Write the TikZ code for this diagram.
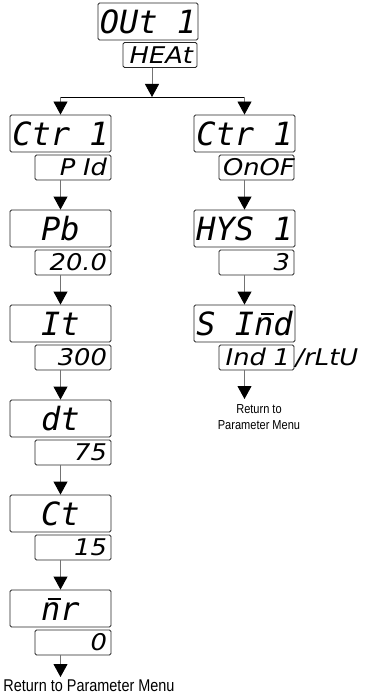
\documentclass[tikz,border=0pt]{standalone}
\usepackage{fontspec}
\usetikzlibrary{arrows.meta}
\newfontfamily\segfont{DejaVu Sans Mono}
\newfontfamily\segval[FakeStretch=1.12]{DejaVu Sans}
\newfontfamily\narrowsans[FakeStretch=0.85]{Liberation Sans}
\newcommand\segbarn{\leavevmode\rlap{\kern0.2em\raisebox{0.64em}{\rule{0.42em}{0.06em}}}n}
\begin{document}
\begin{tikzpicture}[x=1pt,y=-1pt,
  mainbox/.style={draw=black!85,line width=0.9pt,rounded corners=1.5pt,
    minimum width=101pt,minimum height=37pt,inner sep=0pt,
    font=\segfont\itshape\fontsize{32}{32}\selectfont,text height=23.4pt,text depth=0pt},
  valbox/.style={draw=black!85,line width=0.9pt,rounded corners=1.5pt,
    minimum height=25pt,inner xsep=4pt,inner ysep=0pt,align=right,
    font=\segval\itshape\fontsize{23}{23}\selectfont,text height=16.8pt,text depth=0pt},
  conn/.style={draw=black!55,line width=0.9pt,
    -{Triangle[width=14pt,length=13pt,fill=black,color=black]}},
  hline/.style={draw=black,line width=0.9pt},
  ret/.style={font=\narrowsans,align=center,inner sep=0pt}
]
\useasboundingbox (0,0) rectangle (378,698);
% top
\node[mainbox,minimum width=100pt] (out) at (148,21.5) {OUt 1};
\node[valbox,text width=66pt] (heat) at (160,55) {HEAt};
\coordinate (jn) at (152,97);
% left column
\node[mainbox] (ctrL) at (60.5,133.5) {Ctr 1};
\node[valbox,text width=68pt] (pid) at (73,167.5) {P Id};
\node[mainbox] (pb) at (60.5,228.5) {Pb};
\node[valbox,text width=68pt] (pbv) at (73,262.5) {20.0};
\node[mainbox] (it) at (60.5,323.5) {It};
\node[valbox,text width=68pt] (itv) at (73,357.5) {300};
\node[mainbox] (dt) at (60.5,418.5) {dt};
\node[valbox,text width=68pt] (dtv) at (73,452.5) {75};
\node[mainbox] (ct) at (60.5,513.5) {Ct};
\node[valbox,text width=68pt] (ctv) at (73,547.5) {15};
\node[mainbox] (mr) at (60.5,608.5) {\segbarn r};
\node[valbox,text width=68pt] (mrv) at (73,642.5) {0};
\coordinate (endL) at (60.5,677);
\node[ret,font=\narrowsans\fontsize{17}{17}\selectfont] (retL) at (89,686) {Return to Parameter Menu};
% right column
\node[mainbox] (ctrR) at (244.5,133.5) {Ctr 1};
\node[valbox,text width=67pt] (onof) at (256.5,167.5) {OnOF};
\node[mainbox] (hys) at (244.5,228.5) {HYS 1};
\node[valbox,text width=67pt] (hysv) at (256.5,262.5) {3};
\node[mainbox] (sind) at (244.5,323.5) {S I\segbarn d};
\node[valbox,text width=67pt] (ind) at (256.5,357.5) {Ind 1};
\node[anchor=west,inner xsep=1pt,inner ysep=0pt,font=\segval\itshape\fontsize{23}{23}\selectfont,text height=16.8pt,text depth=0pt] (rltu) at (ind.east) {/rLtU};
\coordinate (endR) at (244.5,399);
\node[ret,font=\narrowsans\fontsize{13}{15.5}\selectfont] (retR) at (259,417) {Return to\\Parameter Menu};
% connectors
\draw[conn] (heat.south -| jn) -- (jn);
\draw[hline] (ctrL.north |- jn) -- (ctrR.north |- jn);
\draw[conn] (ctrL.north |- jn) -- (ctrL.north);
\draw[conn] (ctrR.north |- jn) -- (ctrR.north);
\draw[conn] (pid.south -| pb.north) -- (pb.north);
\draw[conn] (pbv.south -| it.north) -- (it.north);
\draw[conn] (itv.south -| dt.north) -- (dt.north);
\draw[conn] (dtv.south -| ct.north) -- (ct.north);
\draw[conn] (ctv.south -| mr.north) -- (mr.north);
\draw[conn] (mrv.south -| endL) -- (endL);
\draw[conn] (onof.south -| hys.north) -- (hys.north);
\draw[conn] (hysv.south -| sind.north) -- (sind.north);
\draw[conn] (ind.south -| endR) -- (endR);
\end{tikzpicture}
\end{document}
